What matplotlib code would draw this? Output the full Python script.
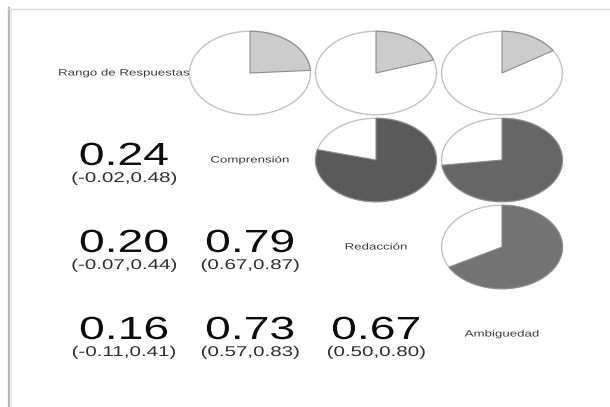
import numpy as np
import matplotlib
matplotlib.use("Agg")
import matplotlib.pyplot as plt
from matplotlib.patches import Wedge, Circle
from matplotlib.lines import Line2D
from matplotlib.transforms import Affine2D
from matplotlib import patheffects

# ---- datos ----
variables = ["Rango de Respuestas", "Comprensión", "Redacción", "Ambiguedad"]
# pares (fila, columna) del triangulo inferior
pair_row = [1, 2, 2, 3, 3, 3]
pair_col = [0, 0, 1, 0, 1, 2]
corr_vals = [0.24, 0.20, 0.79, 0.16, 0.73, 0.67]
ci_low = [-0.02, -0.07, 0.67, -0.11, 0.57, 0.50]
ci_high = [0.48, 0.44, 0.87, 0.41, 0.83, 0.80]

plt.rcParams['font.family'] = ['Liberation Sans', 'DejaVu Sans']

SX = 1.45  # la imagen original esta estirada horizontalmente


class Stretch(patheffects.AbstractPathEffect):
    """estira el texto en x alrededor de su centro"""
    def __init__(self, sx):
        super().__init__()
        self.sx = sx

    def draw_path(self, renderer, gc, tpath, affine, rgbFace=None):
        m = affine.get_matrix().copy()
        ext = tpath.get_extents()
        cx = (ext.x0 + ext.x1) / 2
        m[0, 2] += (1 - self.sx) * m[0, 0] * cx
        m[0, 0] *= self.sx
        m[0, 1] *= self.sx
        renderer.draw_path(gc, tpath, Affine2D(m), rgbFace)


pe = [Stretch(SX)]

fig = plt.figure(figsize=(6.1, 4.07), dpi=100)
fig.patch.set_facecolor('white')

# marco tipo captura de pantalla
fig.add_artist(Line2D([8.5 / 610, 8.5 / 610], [0, 1 - 8 / 407], transform=fig.transFigure,
                      color='#b5b5b5', lw=1.6))
fig.add_artist(Line2D([10.5 / 610, 10.5 / 610], [0, 1 - 9 / 407], transform=fig.transFigure,
                      color='#e6e6e6', lw=1.0))
fig.add_artist(Line2D([8 / 610, 1], [1 - 8.5 / 407, 1 - 8.5 / 407], transform=fig.transFigure,
                      color='#d9d9d9', lw=1.0))

ax = fig.add_axes([61 / 610, 1 - 377.5 / 407, 504 / 610, 348 / 407])
ax.set_xlim(-0.5, 3.5)
ax.set_ylim(3.5, -0.5)
ax.axis('off')

# diagonal: nombres
for k, name in enumerate(variables):
    ax.text(k, k, name, ha='center', va='center', fontsize=6.6, color='#3a3a3a',
            path_effects=pe)

R = 0.48
for i, j, r, lo, hi in zip(pair_row, pair_col, corr_vals, ci_low, ci_high):
    # triangulo inferior: numeros
    ax.text(j, i + 0.057, f"{r:.2f}", ha='center', va='baseline', fontsize=23,
            color='#0d0d0d', path_effects=pe)
    ax.text(j, i + 0.253, f"({lo:.2f},{hi:.2f})", ha='center', va='baseline',
            fontsize=10.2, color='#2e2e2e', path_effects=pe)
    # triangulo superior: tortas (eje y invertido -> angulos negativos)
    g = min(0.8, 1 - 0.82 * r)
    ax.add_patch(Circle((i, j), R, facecolor='white', edgecolor='#c4c4c4', lw=1.0))
    ax.add_patch(Wedge((i, j), R, -90, -90 + 360 * r, facecolor=(g, g, g),
                       edgecolor='#8c8c8c', lw=0.8))

fig.savefig("out.png", dpi=100)
